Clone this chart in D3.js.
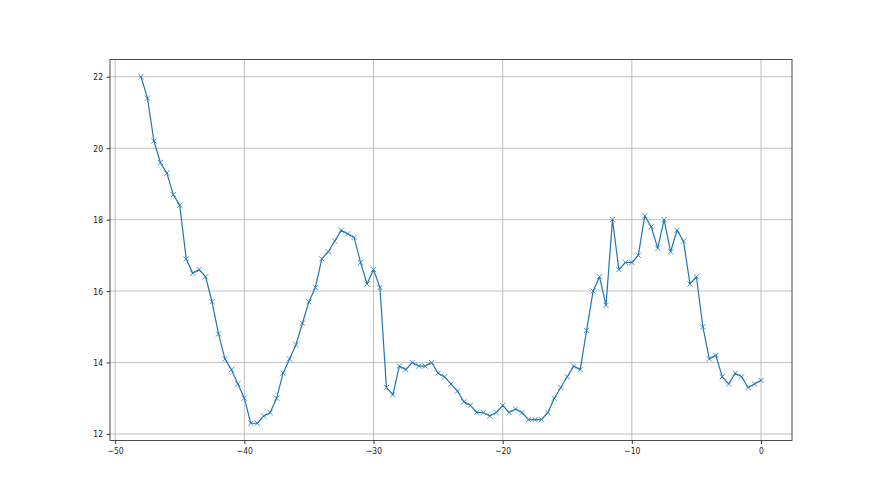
<!DOCTYPE html>
<html><head><meta charset="utf-8">
<script src="https://cdn.jsdelivr.net/npm/d3@7"></script>
<style>body{margin:0;background:#fff}svg{display:block}</style>
</head><body>
<svg id="c" width="880" height="495"></svg>
<script>
const xStart = -48, xStep = 0.5;
const yValues = [22.0,21.4,20.2,19.6,19.3,18.7,18.4,16.9,16.5,16.6,16.4,15.7,14.8,14.1,13.8,13.4,13.0,
12.3,12.3,12.5,12.6,13.0,13.7,14.1,14.5,15.1,15.7,16.1,16.9,17.1,17.4,17.7,17.6,17.5,16.8,16.2,16.6,16.1,
13.3,13.1,13.9,13.8,14.0,13.9,13.9,14.0,13.7,13.6,13.4,13.2,12.9,12.8,12.6,12.6,12.5,12.6,12.8,12.6,12.7,12.6,
12.4,12.4,12.4,12.6,13.0,13.3,13.6,13.9,13.8,14.9,16.0,16.4,15.6,18.0,16.6,16.8,16.8,17.0,18.1,17.8,17.2,18.0,
17.1,17.7,17.4,16.2,16.4,15.0,14.1,14.2,13.6,13.4,13.7,13.6,13.3,13.4,13.5];
const xValues = yValues.map((_, i) => xStart + i * xStep);
const xTicks = [-50, -40, -30, -20, -10, 0];
const yTicks = [12, 14, 16, 18, 20, 22];

const svg = d3.select("#c");
const L = 110, R = 792, T = 59.4, B = 440.55;
const xmin = d3.min(xValues), xmax = d3.max(xValues);
const ymin = d3.min(yValues), ymax = d3.max(yValues);
const xp = (xmax - xmin) * 0.05, yp = (ymax - ymin) * 0.05;
const x = d3.scaleLinear().domain([xmin - xp, xmax + xp]).range([L, R]);
const y = d3.scaleLinear().domain([ymin - yp, ymax + yp]).range([B, T]);
const fmt = d => (d < 0 ? "\u2212" + Math.abs(d) : String(d));

// grid
const g = svg.append("g");
g.selectAll(".gx").data(xTicks).enter().append("line")
  .attr("x1", d => x(d)).attr("x2", d => x(d)).attr("y1", T).attr("y2", B)
  .attr("stroke", "#b0b0b0").attr("stroke-width", 0.8);
g.selectAll(".gy").data(yTicks).enter().append("line")
  .attr("y1", d => y(d)).attr("y2", d => y(d)).attr("x1", L).attr("x2", R)
  .attr("stroke", "#b0b0b0").attr("stroke-width", 0.8);

// axes
const xa = svg.append("g").attr("transform", `translate(0,${B})`)
  .call(d3.axisBottom(x).tickValues(xTicks).tickFormat(fmt).tickSize(3.5).tickPadding(3.5));
const ya = svg.append("g").attr("transform", `translate(${L},0)`)
  .call(d3.axisLeft(y).tickValues(yTicks).tickFormat(fmt).tickSize(3.5).tickPadding(3.5));
[xa, ya].forEach(a => {
  a.select(".domain").remove();
  a.selectAll("line").attr("stroke", "#000").attr("stroke-width", 0.8);
  a.selectAll("text").attr("font-family", "DejaVu Sans").attr("font-size", 9.5).attr("fill", "#222");
});
xa.selectAll("text").attr("transform", "scale(0.8,1)");
ya.selectAll("text").attr("x", 0).attr("transform", "translate(-7,0) scale(0.8,1)");

// line
const pts = xValues.map((v, i) => [v, yValues[i]]);
svg.append("path").datum(pts)
  .attr("d", d3.line().x(d => x(d[0])).y(d => y(d[1])))
  .attr("fill", "none").attr("stroke", "#1f77b4").attr("stroke-width", 1.2)
  .attr("stroke-linejoin", "round").attr("stroke-linecap", "square");
// x markers
const m = 2.6;
svg.append("g").selectAll("path").data(pts).enter().append("path")
  .attr("d", d => { const cx = x(d[0]), cy = y(d[1]);
    return `M${cx-m},${cy-m}L${cx+m},${cy+m}M${cx-m},${cy+m}L${cx+m},${cy-m}`; })
  .attr("stroke", "#1f77b4").attr("stroke-width", 0.8).attr("fill", "none");

// spines
svg.append("rect").attr("x", L).attr("y", T).attr("width", R - L).attr("height", B - T)
  .attr("fill", "none").attr("stroke", "#222").attr("stroke-width", 0.8);
</script>
</body></html>
